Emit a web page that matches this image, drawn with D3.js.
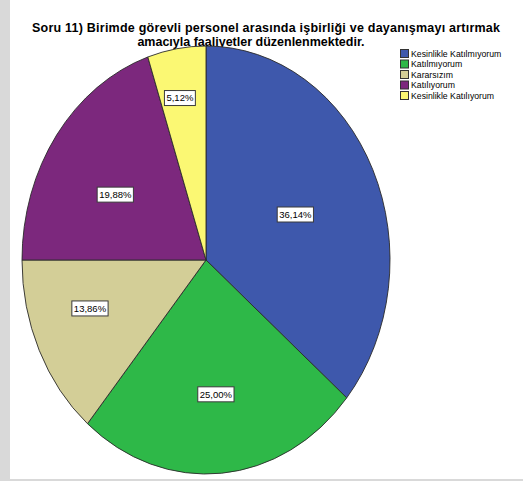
<!DOCTYPE html>
<html>
<head>
<meta charset="utf-8">
<script src="https://cdn.jsdelivr.net/npm/d3@7"></script>
<style>
  html, body { margin: 0; padding: 0; background: #fff; }
  svg { display: block; }
  text { font-family: "Liberation Sans", Arial, sans-serif; }
</style>
</head>
<body>
<svg id="chart" width="523" height="481"></svg>
<script>
// ---- data ----
const titleLines = [
  "Soru 11) Birimde görevli personel arasında işbirliği ve dayanışmayı artırmak",
  "amacıyla faaliyetler düzenlenmektedir."
];
const categories = ["Kesinlikle Katılmıyorum", "Katılmıyorum", "Kararsızım", "Katılıyorum", "Kesinlikle Katılıyorum"];
const percents = [36.14, 25.00, 13.86, 19.88, 5.12];
const colors = ["#3E58AC", "#2EB848", "#D3CE97", "#7C287D", "#FBF873"];

// label placement (radius fraction, angle nudge in degrees)
const labelRadius = [0.53, 0.63, 0.67, 0.58, 0.77];
const labelNudge = [1.3, 0, 5.2, -4, -1.4];

const W = 523, H = 481;
const svg = d3.select("#chart");

// frame
svg.append("rect").attr("x", 0).attr("y", 0).attr("width", W).attr("height", H).attr("fill", "#d9d9d9");
svg.append("rect").attr("x", 10).attr("y", 0).attr("width", W - 10).attr("height", 479).attr("fill", "#ffffff");

// title
const titleCx = [266, 251];
const tl = svg.append("g");
tl.selectAll("text").data(titleLines).join("text")
  .attr("x", (d, i) => titleCx[i])
  .attr("y", (d, i) => 32 + i * 13.5)
  .attr("text-anchor", "middle")
  .attr("font-weight", "bold")
  .attr("font-size", 12.5)
  .attr("fill", "#000")
  .text(d => d);
// fit first line to the reference width without growing too large
const w0 = tl.select("text").node().getComputedTextLength();
const fs = Math.min(12.5, 12.5 * 468 / w0);
tl.selectAll("text").attr("font-size", fs);
const w1 = tl.select("text").node().getComputedTextLength();
if (w1 < 466) tl.select("text").attr("textLength", 468).attr("lengthAdjust", "spacing");

// pie (elliptical)
const cx = 206, cy = 260, rx = 184, ry = 214;
const pie = d3.pie().sort(null).value(d => d);
const arcs = pie(percents);
const arc = d3.arc().innerRadius(0).outerRadius(rx);

const pg = svg.append("g").attr("transform", `translate(${cx},${cy}) scale(1,${ry / rx})`);
pg.selectAll("path").data(arcs).join("path")
  .attr("d", arc)
  .attr("fill", (d, i) => colors[i])
  .attr("stroke", "#2a2a2a")
  .attr("stroke-width", 0.9)
  .attr("vector-effect", "non-scaling-stroke")
  .attr("stroke-linejoin", "round");

// labels
const fmt = v => d3.format(".2f")(v).replace(".", ",") + "%";
const lg = svg.append("g");
arcs.forEach((d, i) => {
  const a = (d.startAngle + d.endAngle) / 2 + labelNudge[i] * Math.PI / 180;
  const x = cx + rx * labelRadius[i] * Math.sin(a);
  const y = cy - ry * labelRadius[i] * Math.cos(a);
  const g = lg.append("g").attr("transform", `translate(${x},${y})`);
  const t = g.append("text")
    .attr("text-anchor", "middle")
    .attr("dy", "0.35em")
    .attr("font-size", 9.5)
    .attr("fill", "#000")
    .text(fmt(percents[i]));
  const tw = t.node().getComputedTextLength();
  g.insert("rect", "text")
    .attr("x", -tw / 2 - 2).attr("y", -7.5)
    .attr("width", tw + 4).attr("height", 15)
    .attr("fill", "#fff")
    .attr("stroke", "#3a3a3a")
    .attr("stroke-width", 1);
});

// legend
const leg = svg.append("g").attr("transform", "translate(400,49)");
const rows = leg.selectAll("g").data(categories).join("g")
  .attr("transform", (d, i) => `translate(0,${i * 10.5})`);
rows.append("rect")
  .attr("x", 0.5).attr("y", 0.5).attr("width", 8).attr("height", 8)
  .attr("fill", (d, i) => colors[i])
  .attr("stroke", "#333").attr("stroke-width", 1);
rows.append("text")
  .attr("x", 11).attr("y", 4.5).attr("dy", "0.35em")
  .attr("font-size", 8.7)
  .attr("fill", "#000")
  .text(d => d);
</script>
</body>
</html>
